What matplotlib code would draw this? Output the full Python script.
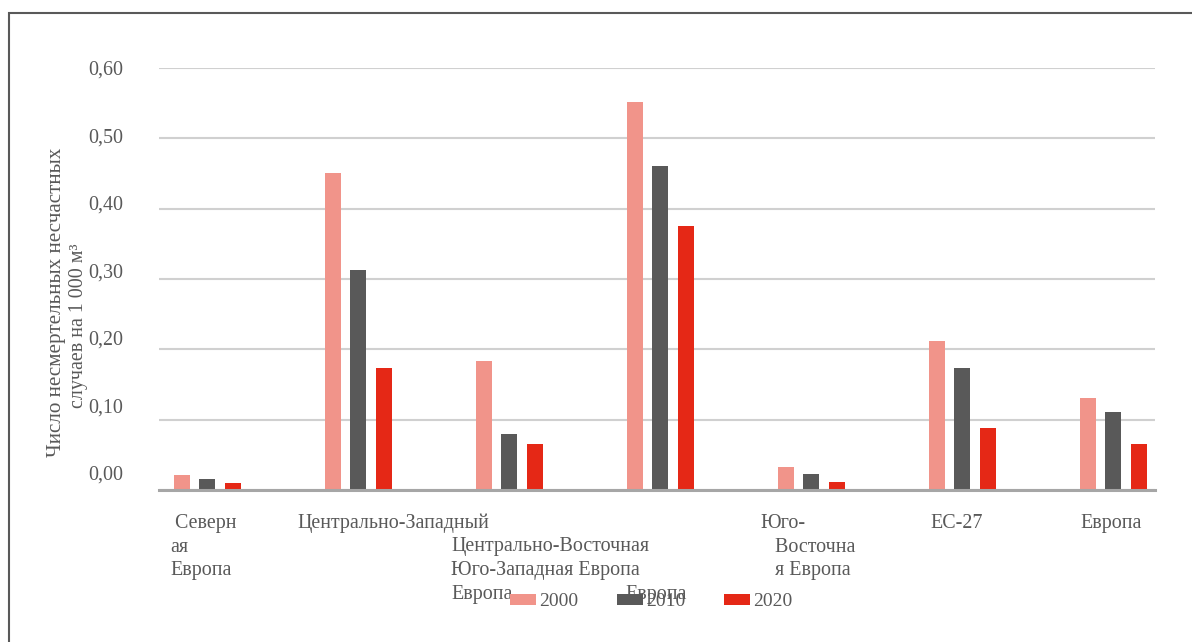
import numpy as np
import matplotlib
matplotlib.use("Agg")
import matplotlib.pyplot as plt
from matplotlib.patches import Rectangle, Patch
from matplotlib.transforms import ScaledTranslation

plt.rcParams['font.family'] = ['Liberation Serif', 'DejaVu Serif']

# Данные
years = ['2000', '2010', '2020']
tick_labels = [' Северн\nая\nЕвропа',
               'Центрально-Западный',
               'Центрально-Восточная\nЮго-Западная Европа\nЕвропа',
               'Европа',
               'Юго-\n   Восточна\n   я Европа',
               'ЕС-27',
               'Европа']
v2000 = [0.022, 0.451, 0.183, 0.551, 0.033, 0.212, 0.131]
v2010 = [0.015, 0.313, 0.080, 0.461, 0.023, 0.174, 0.111]
v2020 = [0.010, 0.174, 0.065, 0.376, 0.011, 0.088, 0.065]
y_ticks = [0.0, 0.1, 0.2, 0.3, 0.4, 0.5, 0.6]

colors = ['#F1948A', '#595959', '#E52816']
txt_color = '#595959'
fs = 14.4

# раскладка подписей категорий: (строка, сдвиг в пикселях от центра группы)
label_layout = [(0, -37.5), (0, -61.5), (1, -58.5), (3, -35.5), (0, -51.5), (0, -32.5), (0, -33.5)]

fig = plt.figure(figsize=(11.92, 6.42), dpi=100)
ax = fig.add_axes([159 / 1192, 1 - 490 / 642, (1155 - 159) / 1192, (490 - 68) / 642])

x = np.arange(len(tick_labels))
step = 0.169
w = 0.106
for i, (vals, c) in enumerate(zip([v2000, v2010, v2020], colors)):
    ax.bar(x + (i - 1) * step, vals, width=w, color=c, zorder=3)

ax.set_xlim(-0.321, 6.275)
ax.set_ylim(0, 0.6)
ax.set_yticks(y_ticks)
ax.set_yticklabels([f"{t:.2f}".replace('.', ',') for t in y_ticks])
ax.set_xticks([])
ax.grid(axis='y', color='#D0D0D0', linewidth=1.5, zorder=0)
for s in ['top', 'right', 'left']:
    ax.spines[s].set_visible(False)
ax.spines['bottom'].set_color('#A6A6A6')
ax.spines['bottom'].set_linewidth(2.2)
ax.spines['bottom'].set_zorder(4)
ax.tick_params(axis='y', length=0, pad=26, labelsize=fs, labelcolor=txt_color)

# подписи оси Y в оригинале немного "уплывают" вверх
for t, lab in zip(y_ticks, ax.get_yticklabels()):
    dy = (0.6 - t) / 0.1 * 2.9 / 100
    lab.set_transform(lab.get_transform() + ScaledTranslation(0, dy, fig.dpi_scale_trans))

# подписи категорий
row_h = 23.5
for i, (lab, (row, dx)) in enumerate(zip(tick_labels, label_layout)):
    for k, line in enumerate(lab.split('\n')):
        off_y = -(38 + row_h * (row + k)) * 0.72
        ax.annotate(line, xy=(x[i], 0), xycoords=('data', 'axes fraction'),
                    xytext=(dx * 0.72, off_y), textcoords='offset points',
                    ha='left', va='baseline', fontsize=fs, color=txt_color,
                    annotation_clip=False)

# подпись оси Y
fig.text(56 / 1192, 1 - 302 / 642, 'Число несмертельных несчастных',
         rotation=90, ha='center', va='center', fontsize=15.2, color=txt_color)
fig.text(79 / 1192, 1 - 326 / 642, 'случаев на 1 000 м³',
         rotation=90, ha='center', va='center', fontsize=fs, color=txt_color)

# легенда
handles = [Patch(facecolor=c, edgecolor='none') for c in colors]
fig.legend(handles, years, loc='center', bbox_to_anchor=(651 / 1192, 1 - 602 / 642),
           ncol=3, frameon=False, fontsize=14, handlelength=1.34, handleheight=0.5,
           handletextpad=0.15, columnspacing=2.0, labelcolor=txt_color)

# рамка вокруг диаграммы
fig.patches.append(Rectangle((9 / 1192, -0.2), 1.2, 1.2 - 13 / 642,
                             transform=fig.transFigure, fill=False,
                             edgecolor='#595959', linewidth=1.5))

fig.savefig('out.png', dpi=100)
